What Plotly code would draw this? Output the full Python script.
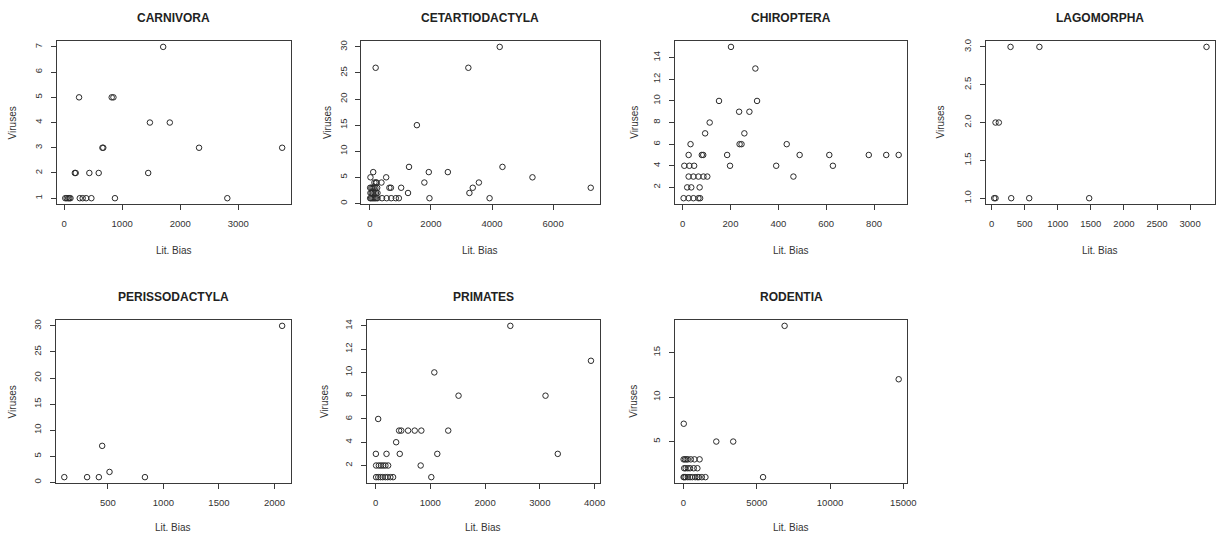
import plotly.graph_objects as go

W, H = 1225, 535

# ---------------- data (Lit. Bias, Viruses) ----------------
titles = ["CARNIVORA", "CETARTIODACTYLA", "CHIROPTERA", "LAGOMORPHA",
          "PERISSODACTYLA", "PRIMATES", "RODENTIA"]

carnivora_lit = [1707, 258, 820, 850, 1478, 1821, 660, 675, 2325, 3757,
                 185, 200, 435, 596, 1449, 20, 45, 70, 90, 110, 270, 320,
                 380, 470, 876, 2812]
carnivora_vir = [7, 5, 5, 5, 4, 4, 3, 3, 3, 3,
                 2, 2, 2, 2, 2, 1, 1, 1, 1, 1, 1, 1,
                 1, 1, 1, 1]

cetart_lit = [4252, 190, 3225, 1540, 1282, 4342, 110, 1930, 2554, 20, 535,
              5324, 200, 380, 1785, 3570, 150, 220, 640, 690, 1025, 3370,
              7232, 10, 50, 90, 130, 180, 240, 1250, 3260, 20, 60, 100, 150,
              200, 250, 1952, 3920, 400, 550, 700, 850, 950, 10, 40, 80, 120,
              160, 200, 250]
cetart_vir = [30, 26, 26, 15, 7, 7, 6, 6, 6, 5, 5,
              5, 4, 4, 4, 4, 4, 4, 3, 3, 3, 3,
              3, 3, 3, 3, 3, 3, 3, 2, 2, 2, 2, 2, 2,
              2, 2, 1, 1, 1, 1, 1, 1, 1, 1, 1, 1, 1,
              1, 1, 1]

chiroptera_lit = [202, 304, 152, 311, 236, 279, 113, 94, 258, 33, 238, 246,
                  435, 25, 80, 86, 186, 489, 613, 778, 851, 903, 7, 28, 48,
                  198, 391, 628, 25, 45, 66, 87, 103, 463, 19, 36, 71, 4,
                  25, 45, 66, 73]
chiroptera_vir = [15, 13, 10, 10, 9, 9, 8, 7, 7, 6, 6, 6,
                  6, 5, 5, 5, 5, 5, 5, 5, 5, 5, 4, 4, 4,
                  4, 4, 4, 3, 3, 3, 3, 3, 3, 2, 2, 2, 1,
                  1, 1, 1, 1]

lagomorpha_lit = [287, 723, 3248, 60, 110, 40, 60, 297, 569, 1475]
lagomorpha_vir = [3, 3, 3, 2, 2, 1, 1, 1, 1, 1]

perisso_lit = [108, 313, 419, 449, 515, 834, 2069]
perisso_vir = [1, 1, 1, 7, 2, 1, 30]

primates_lit = [2461, 3933, 1073, 1515, 3103, 48, 430, 470, 594, 715, 836,
                1327, 376, 6, 200, 442, 1127, 3327, 10, 60, 100, 140, 180,
                230, 824, 10, 50, 90, 130, 180, 220, 270, 320, 1018]
primates_vir = [14, 11, 10, 8, 8, 6, 5, 5, 5, 5, 5,
                5, 4, 3, 3, 3, 3, 3, 2, 2, 2, 2, 2,
                2, 2, 1, 1, 1, 1, 1, 1, 1, 1, 1]

rodentia_lit = [6900, 14683, 20, 2240, 3394, 5430, 10, 100, 200, 300, 500,
                750, 1100, 50, 150, 300, 450, 700, 950, 10, 60, 150, 300,
                450, 600, 800, 950, 1050, 1250, 1500]
rodentia_vir = [18, 12, 7, 5, 5, 1, 3, 3, 3, 3, 3,
                3, 3, 2, 2, 2, 2, 2, 2, 1, 1, 1, 1,
                1, 1, 1, 1, 1, 1, 1]

series = [(carnivora_lit, carnivora_vir), (cetart_lit, cetart_vir),
          (chiroptera_lit, chiroptera_vir), (lagomorpha_lit, lagomorpha_vir),
          (perisso_lit, perisso_vir), (primates_lit, primates_vir),
          (rodentia_lit, rodentia_vir)]

# ---------------- layout config (pixels) ----------------
# box: left, right, top, bottom ; x dtick ; y dtick ; y-title offset
boxes = [(57, 293, 39, 203), (364, 604, 39, 203), (680, 914, 39, 203),
         (993, 1224, 39, 203), (56, 293, 319, 483), (370, 604, 319, 483),
         (680, 914, 319, 483)]
xdticks = [1000, 2000, 200, 500, 500, 1000, 5000]
ydticks = [1, 5, 2, 0.5, 5, 2, 5]
ytitle_off = [44, 34, 41, 45, 43, 43, 42]

FONT = "Liberation Sans, Arial, sans-serif"
TXT = "#333333"


def rrange(v):
    lo, hi = min(v), max(v)
    d = (hi - lo) * 0.04
    return [lo - d, hi + d]


fig = go.Figure()
annotations = []
layout = {}

for i, ((xs, ys), title, box) in enumerate(zip(series, titles, boxes)):
    n = "" if i == 0 else str(i + 1)
    l, r, t, b = box
    fig.add_trace(go.Scatter(
        x=xs, y=ys, mode="markers", showlegend=False,
        xaxis="x" + n, yaxis="y" + n,
        marker=dict(symbol="circle-open", size=5.5, color="#2a2a2a",
                    line=dict(width=1, color="#2a2a2a")),
        hoverinfo="x+y"))
    axcommon = dict(showline=True, mirror=True, linecolor="#3a3a3a",
                    linewidth=1, ticks="outside", ticklen=5,
                    tickcolor="#3a3a3a", showgrid=False, zeroline=False,
                    tickfont=dict(family=FONT, size=9.5, color=TXT),
                    ticklabelstandoff=5, tickformat="d")
    layout["xaxis" + n] = dict(
        axcommon, domain=[l / W, r / W], anchor="y" + n,
        range=rrange(xs), dtick=xdticks[i], tick0=0)
    ydict = dict(
        axcommon, domain=[1 - b / H, 1 - t / H], anchor="x" + n,
        range=rrange(ys), dtick=ydticks[i], tick0=0, tickangle=-90)
    if ydticks[i] < 1:
        ydict["tickformat"] = ".1f"
    layout["yaxis" + n] = ydict

    cx = (l + r) / 2 / W
    annotations.append(dict(
        text="<b>" + title + "</b>", x=cx, y=1 - (t - 23) / H,
        xref="paper", yref="paper", showarrow=False,
        xanchor="center", yanchor="middle",
        font=dict(family=FONT, size=12, color="#222222")))
    annotations.append(dict(
        text="Lit. Bias", x=cx, y=1 - min(b + 46, 527) / H,
        xref="paper", yref="paper", showarrow=False,
        xanchor="center", yanchor="middle",
        font=dict(family=FONT, size=10, color=TXT)))
    annotations.append(dict(
        text="Viruses", x=(l - ytitle_off[i]) / W, y=1 - (t + b) / 2 / H,
        xref="paper", yref="paper", showarrow=False, textangle=-90,
        xanchor="center", yanchor="middle",
        font=dict(family=FONT, size=10, color=TXT)))

fig.update_layout(
    width=W, height=H,
    margin=dict(l=0, r=0, t=0, b=0),
    paper_bgcolor="white", plot_bgcolor="white",
    annotations=annotations,
    **layout)

fig.write_html("out.html",
               config={"displayModeBar": False},
               post_script="document.body.style.margin='0px';"
                           "document.body.style.overflow='hidden';")
